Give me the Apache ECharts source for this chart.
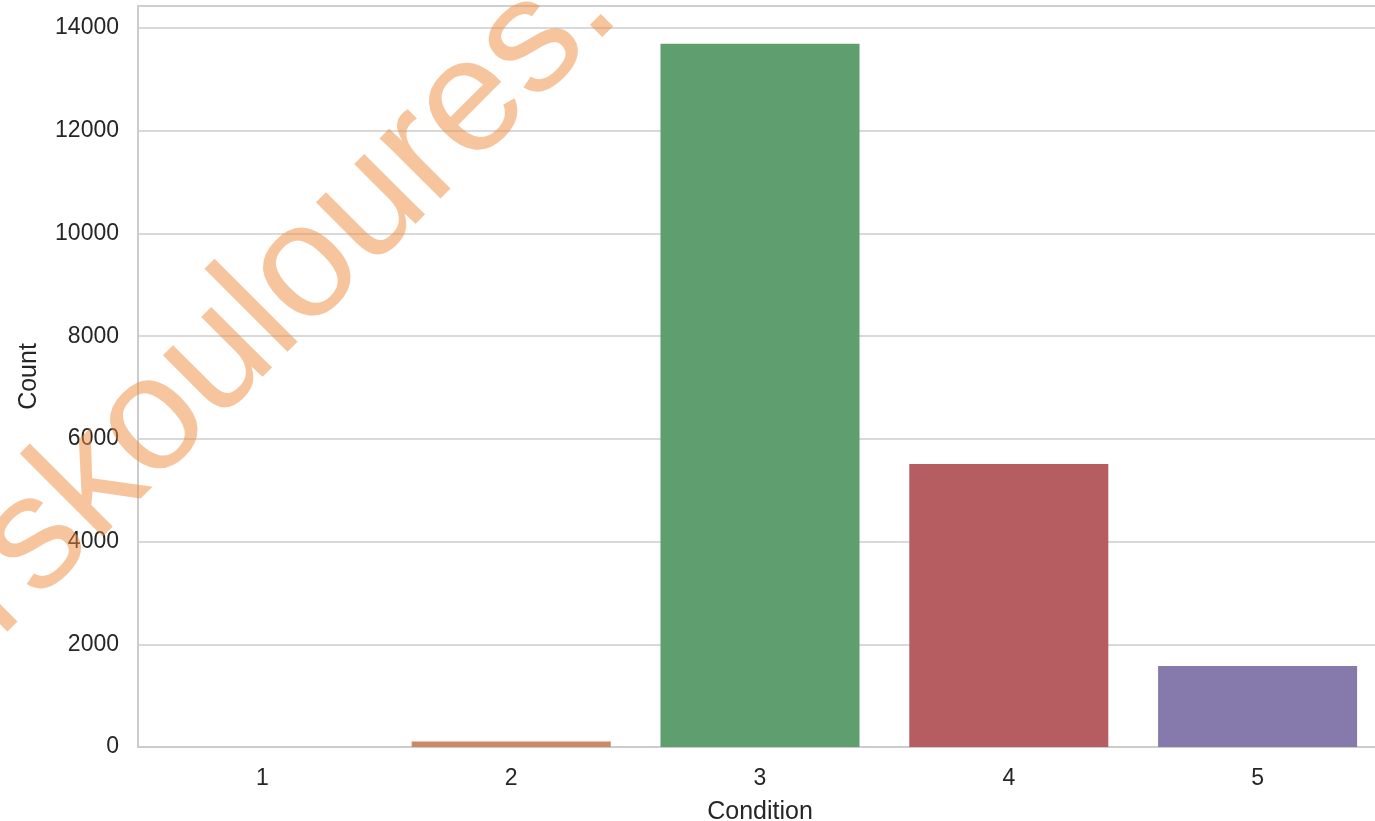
<!DOCTYPE html>
<html>
<head>
<meta charset="utf-8">
<script src="https://cdn.jsdelivr.net/npm/echarts@6/dist/echarts.min.js"></script>
<style>
html,body{margin:0;padding:0;background:#fff;width:100%;height:100%;overflow:hidden;}
#chart{width:1375px;height:821px;}
</style>
</head>
<body>
<div id="chart"></div>
<script>
const categories = ['1', '2', '3', '4', '5'];
const counts = [0, 105, 13694, 5509, 1578];
const barColors = ['#5975a4', '#cc8963', '#5f9e6e', '#b55d60', '#857aab'];
const yTicks = [0, 2000, 4000, 6000, 8000, 10000, 12000, 14000];
const watermarkText = 'rskouloures.';

const chart = echarts.init(document.getElementById('chart'), null, {renderer: 'canvas'});
const FONT = 'Liberation Sans, Arial, Helvetica, sans-serif';
const option = {
  animation: false,
  backgroundColor: '#ffffff',
  grid: {
    left: 138, top: 6, width: 1244, height: 741,
    outerBoundsMode: 'none', containLabel: false,
    show: true, borderColor: '#cccccc', borderWidth: 1.5
  },
  xAxis: {
    type: 'category',
    data: categories,
    name: 'Condition',
    nameLocation: 'middle',
    nameGap: 53,
    nameTextStyle: {fontFamily: FONT, fontSize: 25, color: '#262626'},
    axisLine: {show: true, lineStyle: {color: '#cccccc', width: 2}},
    axisTick: {show: false},
    axisLabel: {fontFamily: FONT, fontSize: 23, color: '#262626', margin: 20},
    splitLine: {show: false}
  },
  yAxis: {
    type: 'value',
    min: 0,
    max: 14430,
    interval: 2000,
    name: 'Count',
    nameLocation: 'middle',
    nameGap: 96,
    nameTextStyle: {fontFamily: FONT, fontSize: 25, color: '#262626'},
    axisLine: {show: true, lineStyle: {color: '#cccccc', width: 2}},
    axisTick: {show: false},
    axisLabel: {
      fontFamily: FONT, fontSize: 23, color: '#262626', margin: 19,
      formatter: function (v) { return yTicks.indexOf(v) >= 0 ? String(v) : ''; }
    },
    splitLine: {show: true, lineStyle: {color: '#cccccc', width: 1.5}}
  },
  series: [{
    type: 'bar',
    data: counts.map((v, i) => ({value: v, itemStyle: {color: barColors[i]}})),
    barCategoryGap: '20%',
    z: 2
  }],
  graphic: [{
    type: 'text',
    x: 280,
    y: 296,
    rotation: 45 * Math.PI / 180,
    z: 100,
    style: {
      text: watermarkText,
      font: '162px Liberation Sans',
      fill: 'rgba(238,140,60,0.5)',
      textAlign: 'center',
      textVerticalAlign: 'middle'
    }
  }]
};
chart.setOption(option);
</script>
</body>
</html>
